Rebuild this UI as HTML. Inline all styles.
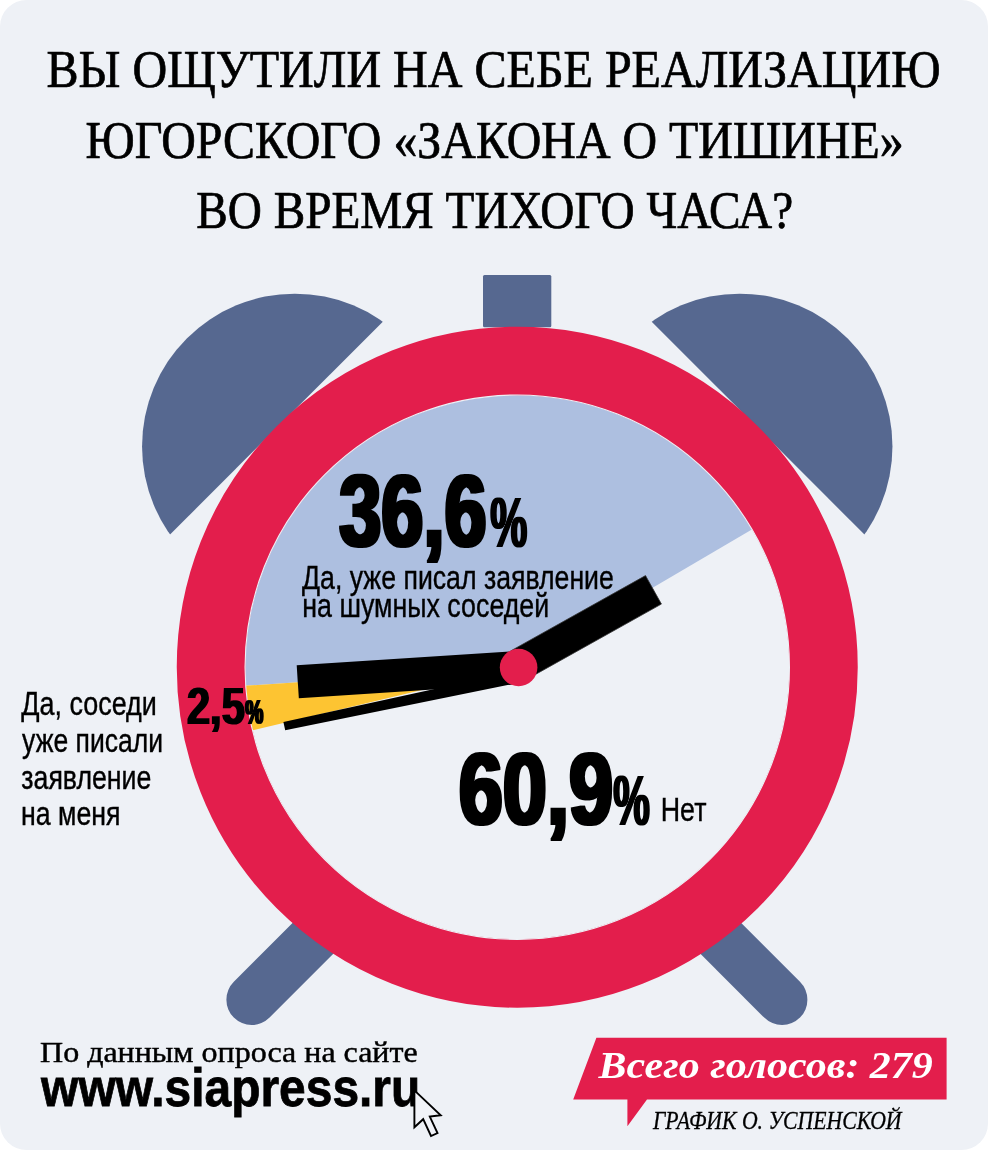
<!DOCTYPE html>
<html lang="ru">
<head>
<meta charset="utf-8">
<title>Вы ощутили на себе реализацию югорского «Закона о тишине»?</title>
<style>
html,body{margin:0;padding:0;background:#fff;}
svg{display:block;}
text{white-space:pre;}
</style>
</head>
<body>
<svg width="988" height="1150" viewBox="0 0 988 1150">
<rect x="0" y="0" width="988" height="1150" rx="26.5" ry="26.5" fill="#eef1f6"/>
<defs><clipPath id="cl"><polygon points="0,704.6 704.6,0 0,0"/></clipPath><clipPath id="cr"><polygon points="329.9,0 988,0 988,658.1"/></clipPath></defs>
<circle cx="294.8" cy="446.4" r="152.75" fill="#566890" clip-path="url(#cl)"/>
<circle cx="739.7" cy="446.4" r="152.75" fill="#566890" clip-path="url(#cr)"/>
<rect x="483" y="275" width="68.3" height="52.3" rx="1.5" fill="#566890"/>
<line x1="251.7" y1="999.7" x2="351.7" y2="899.7" stroke="#566890" stroke-width="50.6" stroke-linecap="round"/>
<line x1="782.1" y1="999.7" x2="682.1" y2="899.7" stroke="#566890" stroke-width="50.6" stroke-linecap="round"/>
<circle cx="517.25" cy="667.2" r="274.0" fill="#eef1f6"/>
<path d="M517.25,667.2 L753.58,528.55 A274.0,274.0 0 0 0 243.88,685.84 Z" fill="#adbfe0"/>
<path d="M517.25,667.2 L243.88,685.84 A274.0,274.0 0 0 0 250.71,730.70 Z" fill="#fdc432"/>
<circle cx="517.25" cy="667.2" r="306.25" fill="none" stroke="#e31e4c" stroke-width="68.5"/>
<circle cx="517.25" cy="667.2" r="272.2" fill="none" stroke="#eef1f6" stroke-width="1.1"/>
<polygon points="283.4,721.9 285.2,730.2 512,684.2 512,672" fill="#000"/>
<polygon points="517.54,651.03 296.70,665.32 298.83,698.25 519.66,683.97" fill="#000"/>
<polygon points="526.55,679.43 661.42,604.05 645.51,575.60 510.65,650.97" fill="#000" stroke="#333" stroke-width="0.8"/>
<circle cx="518.6" cy="667.5" r="18.8" fill="#e31e4c"/>
<text transform="translate(46.57,87.10) scale(0.9258,1.0000)" font-family="'Liberation Serif', serif" font-size="51.91" font-weight="400" font-style="normal" fill="#000" stroke="#000" stroke-width="0.7">ВЫ ОЩУТИЛИ НА СЕБЕ РЕАЛИЗАЦИЮ</text>
<text transform="translate(85.48,157.50) scale(0.9231,1.0000)" font-family="'Liberation Serif', serif" font-size="51.91" font-weight="400" font-style="normal" fill="#000" stroke="#000" stroke-width="0.7">ЮГОРСКОГО «ЗАКОНА О ТИШИНЕ»</text>
<text transform="translate(196.19,228.00) scale(0.9103,1.0000)" font-family="'Liberation Serif', serif" font-size="51.91" font-weight="400" font-style="normal" fill="#000" stroke="#000" stroke-width="0.7">ВО ВРЕМЯ ТИХОГО ЧАСА?</text>
<defs><filter id="fat10" x="-10%" y="-10%" width="120%" height="120%"><feMorphology operator="dilate" radius="2.0 0.6"/></filter><filter id="fatp10" x="-10%" y="-10%" width="120%" height="120%"><feMorphology operator="dilate" radius="1.0 0.3"/></filter><filter id="fat5" x="-10%" y="-10%" width="120%" height="120%"><feMorphology operator="dilate" radius="1.0 0.3"/></filter><filter id="fatp5" x="-10%" y="-10%" width="120%" height="120%"><feMorphology operator="dilate" radius="0.55 0.15"/></filter></defs>
<g filter="url(#fat10)"><text transform="translate(339.29,546.40) scale(0.7378,1.0000)" font-family="'Liberation Sans', sans-serif" font-size="102.57" font-weight="700" font-style="normal" fill="#000" >36,6</text></g>
<g filter="url(#fatp10)"><text transform="translate(490.20,546.70) scale(0.5983,1.0000)" font-family="'Liberation Sans', sans-serif" font-size="69.64" font-weight="700" font-style="normal" fill="#000" >%</text></g>
<g filter="url(#fat10)"><text transform="translate(458.71,824.40) scale(0.7734,1.0000)" font-family="'Liberation Sans', sans-serif" font-size="102.57" font-weight="700" font-style="normal" fill="#000" >60,9</text></g>
<g filter="url(#fatp10)"><text transform="translate(613.22,824.70) scale(0.5914,1.0000)" font-family="'Liberation Sans', sans-serif" font-size="69.64" font-weight="700" font-style="normal" fill="#000" >%</text></g>
<g filter="url(#fat5)"><text transform="translate(187.00,723.90) scale(0.7986,1.0000)" font-family="'Liberation Sans', sans-serif" font-size="52.0" font-weight="700" font-style="normal" fill="#000" >2,5</text></g>
<g filter="url(#fatp5)"><text transform="translate(245.28,724.05) scale(0.5700,1.0000)" font-family="'Liberation Sans', sans-serif" font-size="35.54" font-weight="700" font-style="normal" fill="#000" >%</text></g>
<text transform="translate(302.00,589.40) scale(0.7868,1.0000)" font-family="'Liberation Sans', sans-serif" font-size="33.91" font-weight="400" font-style="normal" fill="#000" stroke="#000" stroke-width="0.4">Да, уже писал заявление</text>
<text transform="translate(302.22,616.90) scale(0.7909,1.0000)" font-family="'Liberation Sans', sans-serif" font-size="33.91" font-weight="400" font-style="normal" fill="#000" stroke="#000" stroke-width="0.4">на шумных соседей</text>
<text transform="translate(660.77,820.80) scale(0.8148,1.0000)" font-family="'Liberation Sans', sans-serif" font-size="32.9" font-weight="400" font-style="normal" fill="#000" stroke="#000" stroke-width="0.4">Нет</text>
<text transform="translate(21.30,715.30) scale(0.8221,1.0000)" font-family="'Liberation Sans', sans-serif" font-size="32.75" font-weight="400" font-style="normal" fill="#000" stroke="#000" stroke-width="0.4">Да, соседи</text>
<text transform="translate(22.10,751.90) scale(0.8105,1.0000)" font-family="'Liberation Sans', sans-serif" font-size="32.75" font-weight="400" font-style="normal" fill="#000" stroke="#000" stroke-width="0.4">уже писали</text>
<text transform="translate(21.28,788.60) scale(0.8159,1.0000)" font-family="'Liberation Sans', sans-serif" font-size="32.75" font-weight="400" font-style="normal" fill="#000" stroke="#000" stroke-width="0.4">заявление</text>
<text transform="translate(21.07,825.30) scale(0.8161,1.0000)" font-family="'Liberation Sans', sans-serif" font-size="32.75" font-weight="400" font-style="normal" fill="#000" stroke="#000" stroke-width="0.4">на меня</text>
<text transform="translate(40.03,1061.80) scale(1.0695,1.0000)" font-family="'Liberation Serif', serif" font-size="29.92" font-weight="400" font-style="normal" fill="#000" stroke="#000" stroke-width="0.45">По данным опроса на сайте</text>
<text transform="translate(41.10,1105.70) scale(0.8794,1.0000)" font-family="'Liberation Sans', sans-serif" font-size="54.53" font-weight="700" font-style="normal" fill="#000" stroke="#000" stroke-width="0.8">www.siapress.ru</text>
<path d="M414.4,1090.4 L414.4,1127.3 L423.2,1119.2 L431.0,1136.0 L437.5,1133.0 L429.8,1116.6 L440.7,1115.2 Z" fill="#f1f3f8" stroke="#000" stroke-width="1.9" stroke-linejoin="miter"/>
<polygon points="596.4,1037.8 946.6,1037.8 946.6,1099.4 647,1099.4 627.4,1126.3 627.4,1099.4 573.2,1099.4" fill="#e31e4c"/>
<text transform="translate(598.50,1077.70) scale(1.0863,1.0000)" font-family="'Liberation Serif', serif" font-size="38.63" font-weight="700" font-style="italic" fill="#fff" >Всего голосов: 279</text>
<text transform="translate(653.00,1129.30) scale(0.8943,1.0000)" font-family="'Liberation Serif', serif" font-size="24.31" font-weight="400" font-style="italic" fill="#000" stroke="#000" stroke-width="0.3">ГРАФИК О. УСПЕНСКОЙ</text>
</svg>
</body>
</html>
